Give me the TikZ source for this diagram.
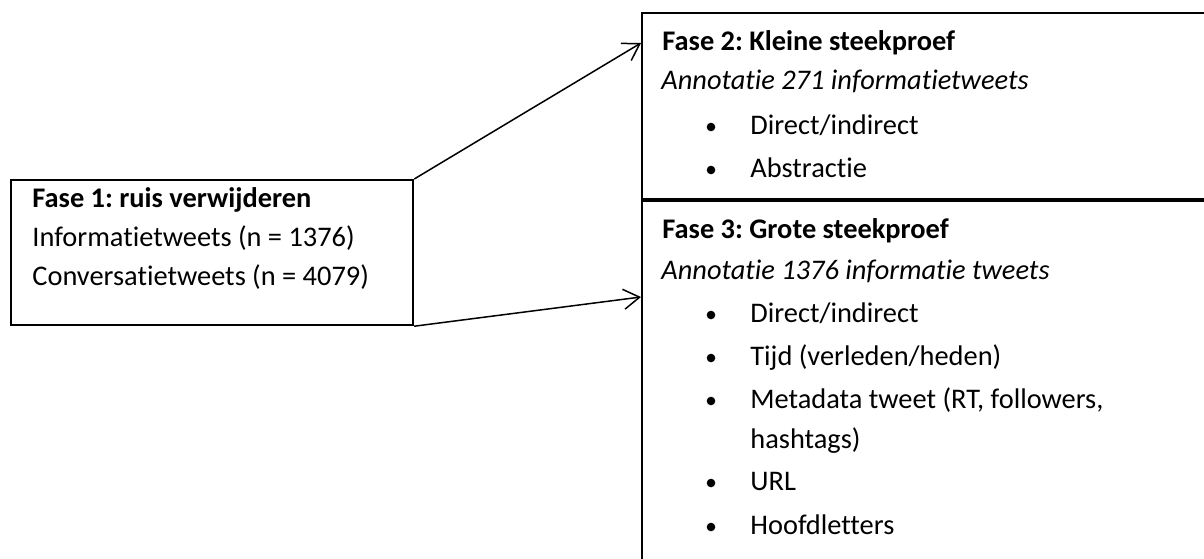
\documentclass[tikz,border=0pt]{standalone}
\usepackage{fontspec}
\setmainfont{Carlito}[Ligatures={NoCommon}]
\frenchspacing
\usetikzlibrary{arrows.meta}
\begin{document}
\begin{tikzpicture}[x=0.5pt, y=-0.5pt,
  fasebox/.style={draw, line width=1.1pt, inner sep=0pt, anchor=north west},
  regel/.style={anchor=base west, inner sep=0pt, font=\fontsize{14.2}{17}\selectfont},
  kop/.style={regel, font=\fontsize{14.2}{17}\selectfont\bfseries},
  sub/.style={regel, font=\fontsize{14.2}{17}\selectfont\itshape},
  punt/.style={circle, fill, inner sep=0pt, minimum size=4.3pt},
  pijl/.style={line width=0.75pt, -{Straight Barb[length=8pt,width=10pt]}}]
\useasboundingbox (0,0) rectangle (1204,558);
\clip (0,0) rectangle (1204,558);
% boxes
\node[fasebox, minimum width=201pt, minimum height=72.5pt] (fase1) at (10,179) {};
\node[fasebox, minimum width=300pt, minimum height=94pt] (fase2) at (641,12) {};
\node[fasebox, minimum width=300pt, minimum height=190pt] (fase3) at (641,200) {};
\draw[line width=1.6pt] (fase3.north west) -- (fase3.north east);
% fase 1
\node[kop] (k1) at (32,207) {Fase 1: ruis verwijderen};
\node[regel] (r1a) at (32,246) {Informatietweets (n = 1376)};
\node[regel] (r1b) at (32,285) {Conversatietweets (n = 4079)};
% fase 2
\node[kop] (k2) at (662,50) {Fase 2: Kleine steekproef};
\node[sub] (s2) at (661,89) {Annotatie 271 informatietweets};
\node[regel] (r2a) at (750,134) {Direct/indirect};
\node[regel] (r2b) at (750,177) {Abstractie};
\foreach \y in {134,177} \node[punt] at (711,\y-7) {};
% fase 3
\node[kop] (k3) at (662,238) {Fase 3: Grote steekproef};
\node[sub] (s3) at (661,279) {Annotatie 1376 informatie tweets};
\node[regel] (r3a) at (750,322) {Direct/indirect};
\node[regel] (r3b) at (750,365) {Tijd (verleden/heden)};
\node[regel] (r3c) at (750,408) {Metadata tweet (RT, followers,};
\node[regel] (r3d) at (750,448) {hashtags)};
\node[regel] (r3e) at (750,490) {URL};
\node[regel] (r3f) at (750,534) {Hoofdletters};
\foreach \y in {322,365,408,490,534} \node[punt] at (711,\y-7) {};
% arrows
\coordinate (in2) at (641,43);
\coordinate (in3) at (641,297);
\draw[pijl] (fase1.north east) -- (in2);
\draw[pijl] (fase1.south east) -- (in3);
\end{tikzpicture}
\end{document}
